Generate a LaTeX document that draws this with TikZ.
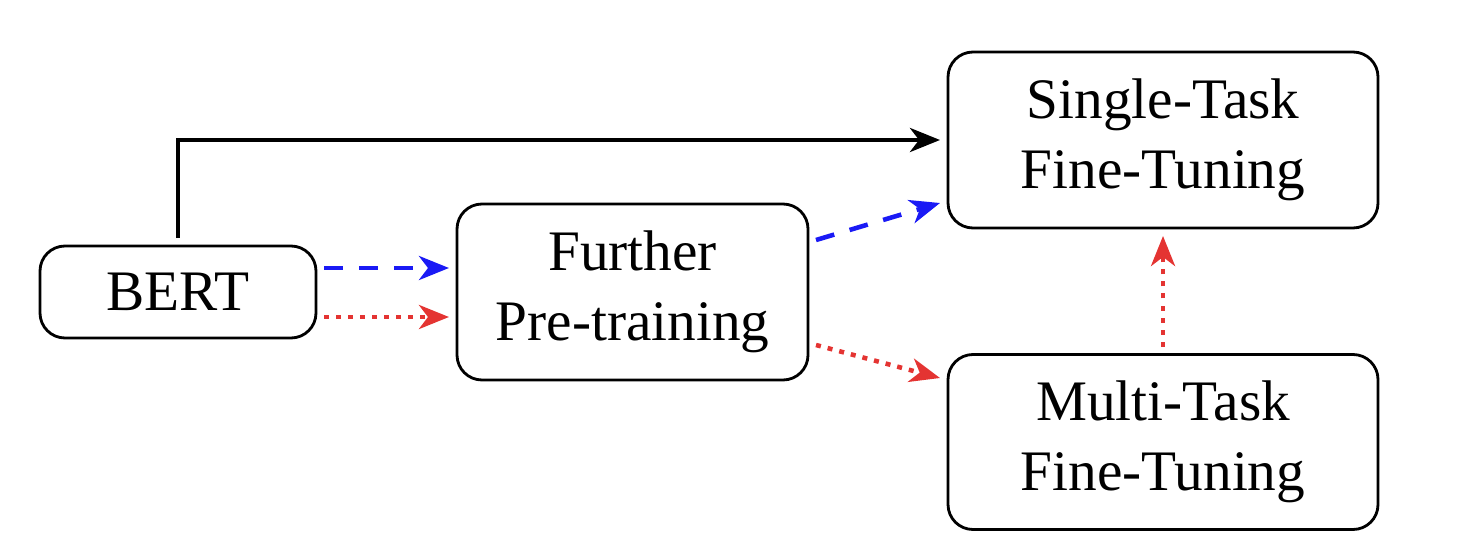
\documentclass[tikz,border=0pt]{standalone}
\usepackage{fontspec}
\setmainfont{Liberation Serif}
\usetikzlibrary{arrows.meta}
\definecolor{ftblue}{RGB}{26,26,245}
\definecolor{ftred}{RGB}{228,52,50}
\begin{document}
\begin{tikzpicture}[
  every node/.style={font=\rmfamily\fontsize{16.3}{20}\selectfont},
  stage/.style={draw,line width=0.8pt,rounded corners=0.25cm,align=center,outer sep=0.08cm},
  flow/.style={line width=1.3pt,-{Stealth[length=0.3cm,width=0.24cm,inset=0.09cm]}},
  blueflow/.style={flow,ftblue,dash pattern=on 0.19cm off 0.16cm},
  redflow/.style={flow,ftred,dash pattern=on 0.05cm off 0.07cm}
]
  \useasboundingbox (0,0) rectangle (14.62,5.54);
  \node[stage,minimum width=2.76cm,minimum height=0.92cm] (bert) at (1.78,2.62) {BERT};
  \node[stage,minimum width=3.51cm,minimum height=1.76cm] (fp) at (6.325,2.62)
    {Further\\Pre-training};
  \node[stage,minimum width=4.3cm,minimum height=1.76cm] (st) at (11.63,4.14)
    {Single-Task\\Fine-Tuning};
  \node[stage,minimum width=4.3cm,minimum height=1.75cm] (mt) at (11.63,1.12)
    {Multi-Task\\Fine-Tuning};

  \draw[flow] (bert.north) |- (st.west);
  \draw[blueflow] ([yshift=0.24cm]bert.east) -- ([yshift=0.24cm]fp.west);
  \draw[redflow] ([yshift=-0.25cm]bert.east) -- ([yshift=-0.25cm]fp.west);
  \draw[blueflow] ([yshift=0.52cm]fp.east) -- ([yshift=-0.63cm]st.west);
  \draw[redflow] ([yshift=-0.53cm]fp.east) -- ([yshift=0.64cm]mt.west);
  \draw[redflow] (mt.north) -- (st.south);
\end{tikzpicture}
\end{document}
